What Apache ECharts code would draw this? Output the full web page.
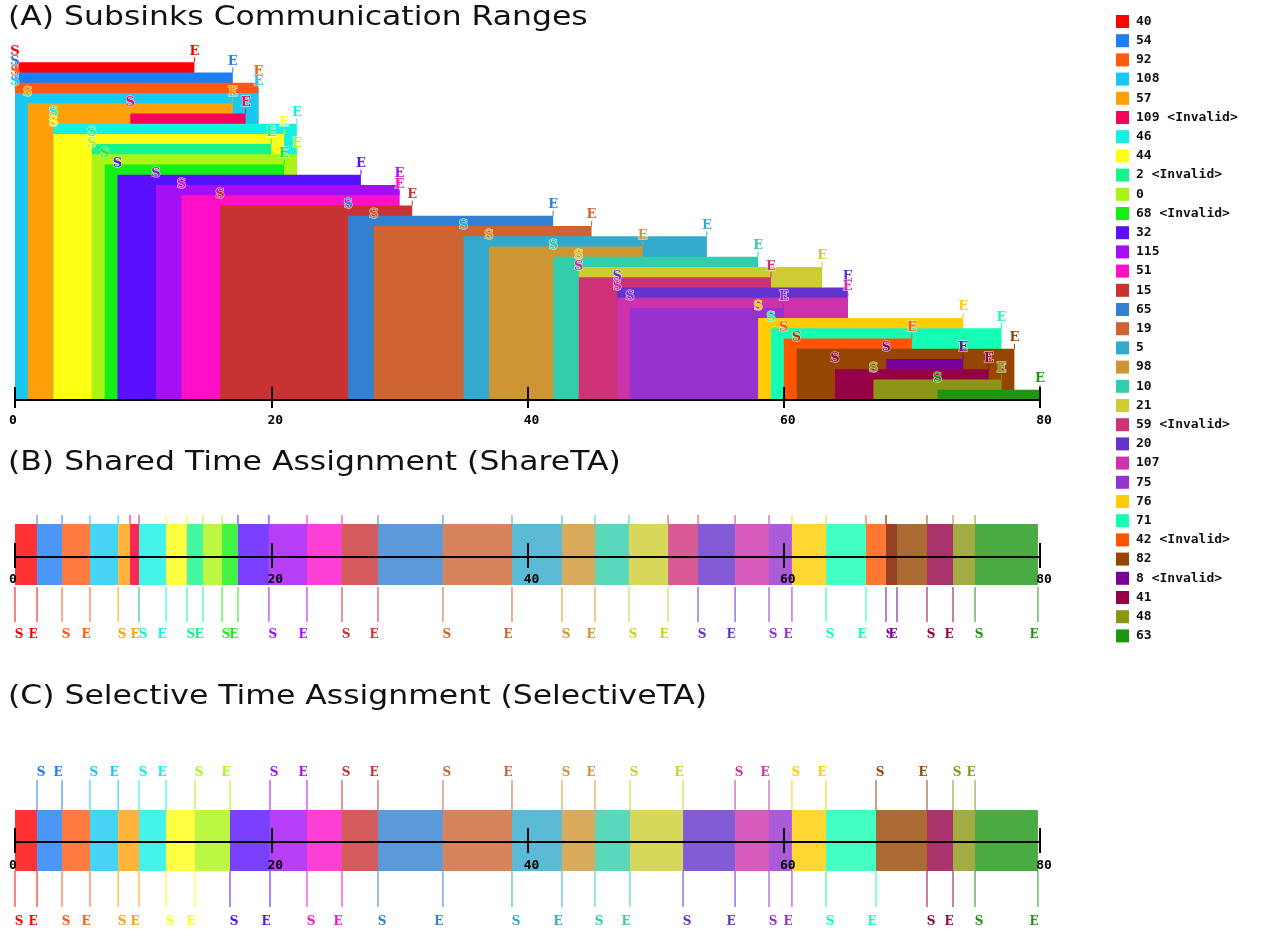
<!DOCTYPE html>
<html>
<head>
<meta charset="utf-8">
<script src="https://cdn.jsdelivr.net/npm/echarts@6/dist/echarts.min.js"></script>
<style>
  html, body { margin: 0; padding: 0; background: #fff; }
  #chart { width: 1277px; height: 929px; }
</style>
</head>
<body>
<div id="chart"></div>
<script>
// Subsinks, in the order their communication ranges are stacked
const nodeIds = [40, 54, 92, 108, 57, 109, 46, 44, 2, 0, 68, 32, 115, 51, 15, 65, 19, 5, 98, 10, 21, 59, 20, 107, 75, 76, 71, 42, 82, 8, 41, 48, 63];
const invalidIds = [109, 2, 68, 59, 42, 8];
// Communication range of each subsink (time units)
const rangeStart = [0, 0, 0, 0, 1, 9, 3, 3, 6, 6, 7, 8, 11, 13, 16, 26, 28, 35, 37, 42, 44, 44, 47, 47, 48, 58, 59, 60, 61, 68, 64, 67, 72];
const rangeEnd   = [14, 17, 19, 19, 17, 18, 22, 21, 20, 22, 21, 27, 30, 30, 31, 42, 45, 54, 49, 58, 63, 59, 65, 65, 60, 74, 77, 70, 78, 74, 76, 77, 80];

// Shared time assignment: slot owners in order, with slot bounds
const shareIds   = [40, 54, 92, 108, 57, 109, 46, 44, 2, 0, 68, 32, 115, 51, 15, 65, 19, 5, 98, 10, 21, 59, 20, 107, 75, 76, 71, 42, 8, 82, 41, 48, 63];
const shareStart = [0, 1.72, 3.67, 5.85, 8.05, 8.98, 9.68, 11.79, 13.42, 14.67, 16.16, 17.40, 19.82, 22.79, 25.52, 28.33, 33.40, 38.79, 42.69, 45.27, 47.92, 50.97, 53.31, 56.20, 58.85, 60.64, 63.30, 66.42, 67.98, 67.98, 71.18, 73.21, 74.93];
const shareEnd   = [1.72, 3.67, 5.85, 8.05, 9.68, 9.68, 11.79, 13.42, 14.67, 16.16, 17.40, 19.82, 22.79, 25.52, 28.33, 33.40, 38.79, 42.69, 45.27, 47.92, 50.97, 53.31, 56.20, 58.85, 60.64, 63.30, 66.42, 67.98, 68.84, 71.18, 73.21, 74.93, 79.84];

// Selective time assignment: only valid subsinks receive a slot
const selIds   = [40, 54, 92, 108, 57, 46, 44, 0, 32, 115, 51, 15, 65, 19, 5, 98, 10, 21, 20, 107, 75, 76, 71, 82, 41, 48, 63];
const selStart = [0, 1.72, 3.67, 5.85, 8.05, 9.68, 11.79, 14.05, 16.78, 19.90, 22.79, 25.52, 28.33, 33.40, 38.79, 42.69, 45.27, 48.00, 52.14, 56.20, 58.85, 60.64, 63.30, 67.20, 71.18, 73.21, 74.93];
const selEnd   = [1.72, 3.67, 5.85, 8.05, 9.68, 11.79, 14.05, 16.78, 19.90, 22.79, 25.52, 28.33, 33.40, 38.79, 42.69, 45.27, 48.00, 52.14, 56.20, 58.85, 60.64, 63.30, 67.20, 71.18, 73.21, 74.93, 79.84];

// Time axis
const timeMin = 0, timeMax = 80, timeStep = 20;

// One colour per subsink (same order as nodeIds)
const nodeColors = [
  '#ff0000', '#1e7df5', '#ff5a0f', '#19c8f0', '#ffa00a', '#f5055a', '#14f0e1', '#ffff14',
  '#14f58c', '#aaf514', '#14f014', '#5a0fff', '#a50ff5', '#ff0fc8', '#c83232', '#3280d2',
  '#cd6432', '#32aacd', '#cd9632', '#32cdaa', '#cdcd32', '#cd3278', '#6432cd', '#cd32aa',
  '#9632cd', '#ffcd00', '#14ffb4', '#ff5500', '#964600', '#780096', '#960046', '#8c9614', '#1e9614'
];

const N = nodeIds.length;
const labelOf = id => invalidIds.includes(id) ? id + ' <Invalid>' : String(id);
const colorOf = id => nodeColors[nodeIds.indexOf(id)];

const MARK_FONT = 'bold 13px "DejaVu Serif"';
const SMALL_MARK_FONT = 'bold 12px "DejaVu Serif"';
const TICK_FONT = { fontFamily: 'DejaVu Sans Mono', fontWeight: 'bold', fontSize: 13, color: '#000' };

function markText(txt, x, y, color, font) {
  return {
    type: 'text', x: x, y: y, z2: 10,
    style: { text: txt, fill: color, font: font, align: 'center', verticalAlign: 'middle',
             stroke: 'rgba(255,255,255,0.85)', lineWidth: 1 }
  };
}

// Panel A: each range is a block from its start to its end, standing on the axis
function rangeRender(params, api) {
  const s = api.value(0), e = api.value(1), lvl = api.value(2);
  const tl = api.coord([s, lvl]);
  const br = api.coord([e, 0]);
  const color = api.visual('color');
  const top = tl[1];
  return {
    type: 'group',
    children: [
      { type: 'rect', shape: { x: tl[0], y: top, width: br[0] - tl[0], height: br[1] - top }, style: { fill: color } },
      { type: 'line', shape: { x1: br[0], y1: top - 5, x2: br[0], y2: top }, style: { stroke: color, lineWidth: 1 } },
      markText('S', tl[0], top - 11, color, MARK_FONT),
      markText('E', br[0], top - 11, color, MARK_FONT)
    ]
  };
}

// Panels B and C: slots on a time band with S/E markers alternating below/above
function slotRender(ids, geom) {
  return function (params, api) {
    const s = api.value(0), e = api.value(1), pos = api.value(2);
    const a = api.coord([s, 0]);
    const b = api.coord([e, 0]);
    const y0 = a[1];
    const color = colorOf(ids[pos]);
    const children = [
      { type: 'rect', shape: { x: a[0], y: y0 + geom.bandTop, width: b[0] - a[0], height: geom.bandBottom - geom.bandTop },
        style: { fill: color, opacity: 0.8 } }
    ];
    const below = pos % 2 === 0;
    const y1 = below ? y0 + geom.lowFrom : y0 + geom.highFrom;
    const y2 = below ? y0 + geom.lowTo : y0 + geom.highTo;
    [a[0], b[0]].forEach(x => {
      children.push({ type: 'line', shape: { x1: x, y1: y1, x2: x, y2: y2 }, style: { stroke: color, lineWidth: 1 } });
    });
    const labelY = below ? y0 + geom.lowLabel : (geom.highLabel == null ? null : y0 + geom.highLabel);
    if (labelY != null) {
      children.push(markText('S', a[0] + 4, labelY, color, SMALL_MARK_FONT));
      children.push(markText('E', b[0] - 4, labelY, color, SMALL_MARK_FONT));
    }
    return { type: 'group', children: children };
  };
}

const gridSide = { left: 15, right: 237 };
const grids = [
  Object.assign({ top: 52, bottom: 529 }, gridSide),
  Object.assign({ top: 500, bottom: 372 }, gridSide),
  Object.assign({ top: 780, bottom: 87 }, gridSide)
];

function timeAxes(g, upLen, downLen, labelMargin) {
  const base = { gridIndex: g, type: 'value', min: timeMin, max: timeMax, interval: timeStep,
                 position: 'bottom', z: 5, splitLine: { show: false } };
  return [
    Object.assign({}, base, {
      axisLine: { show: true, onZero: false, lineStyle: { color: '#000', width: 2 } },
      axisTick: { show: true, inside: true, length: upLen, lineStyle: { color: '#000', width: 2 } },
      axisLabel: {
        show: true, margin: labelMargin,
        formatter: v => v === 0 ? '{z|0}' : '{p|' + v + '}',
        rich: {
          z: Object.assign({ padding: [0, 4, 0, 0] }, TICK_FONT),
          p: Object.assign({ padding: [0, 0, 0, 8] }, TICK_FONT)
        }
      }
    }),
    Object.assign({}, base, {
      axisLine: { show: false },
      axisTick: { show: true, inside: false, length: downLen, lineStyle: { color: '#000', width: 2 } },
      axisLabel: { show: false }
    })
  ];
}

const xAxes = [].concat(timeAxes(0, 13, 8, 14), timeAxes(1, 14, 11, 16), timeAxes(2, 14, 11, 17));
const yAxes = [
  { gridIndex: 0, type: 'value', min: 0, max: N + 1, show: false },
  { gridIndex: 1, type: 'value', min: 0, max: 1, show: false },
  { gridIndex: 2, type: 'value', min: 0, max: 1, show: false }
];

const series = [];
nodeIds.forEach((id, i) => {
  series.push({
    name: labelOf(id),
    type: 'custom',
    xAxisIndex: 0, yAxisIndex: 0,
    itemStyle: { color: nodeColors[i] },
    renderItem: rangeRender,
    encode: { x: [0, 1], y: 2 },
    data: [[rangeStart[i], rangeEnd[i], N - i]],
    silent: true
  });
});

series.push({
  name: 'ShareTA', type: 'custom', xAxisIndex: 2, yAxisIndex: 1, silent: true,
  renderItem: slotRender(shareIds, { bandTop: -33, bandBottom: 28, lowFrom: 30, lowTo: 65, lowLabel: 78,
                                     highFrom: -42, highTo: -33, highLabel: null }),
  encode: { x: [0, 1] },
  data: shareIds.map((id, k) => [shareStart[k], shareEnd[k], k])
});

series.push({
  name: 'SelectiveTA', type: 'custom', xAxisIndex: 4, yAxisIndex: 2, silent: true,
  renderItem: slotRender(selIds, { bandTop: -32, bandBottom: 29, lowFrom: 29, lowTo: 65, lowLabel: 80,
                                   highFrom: -62, highTo: -32, highLabel: -69 }),
  encode: { x: [0, 1] },
  data: selIds.map((id, k) => [selStart[k], selEnd[k], k])
});

const titleStyle = { font: '26px "DejaVu Sans"', fill: '#111', verticalAlign: 'middle' };
const option = {
  animation: false,
  backgroundColor: '#fff',
  grid: grids,
  xAxis: xAxes,
  yAxis: yAxes,
  legend: {
    data: nodeIds.map(labelOf),
    orient: 'vertical', left: 1116, top: 15, padding: 0,
    icon: 'rect', itemWidth: 13, itemHeight: 13, itemGap: 6.2,
    selectedMode: false,
    textStyle: { fontFamily: 'DejaVu Sans Mono', fontWeight: 'bold', fontSize: 13, lineHeight: 13, color: '#111', padding: [0, 0, 0, 2] }
  },
  graphic: [
    { type: 'text', x: 8, y: 18, scaleX: 1.21, style: Object.assign({ text: '(A) Subsinks Communication Ranges' }, titleStyle) },
    { type: 'text', x: 8, y: 463, scaleX: 1.21, style: Object.assign({ text: '(B) Shared Time Assignment (ShareTA)' }, titleStyle) },
    { type: 'text', x: 8, y: 697, scaleX: 1.21, style: Object.assign({ text: '(C) Selective Time Assignment (SelectiveTA)' }, titleStyle) }
  ],
  series: series
};

const chart = echarts.init(document.getElementById('chart'));
chart.setOption(option);
</script>
</body>
</html>
